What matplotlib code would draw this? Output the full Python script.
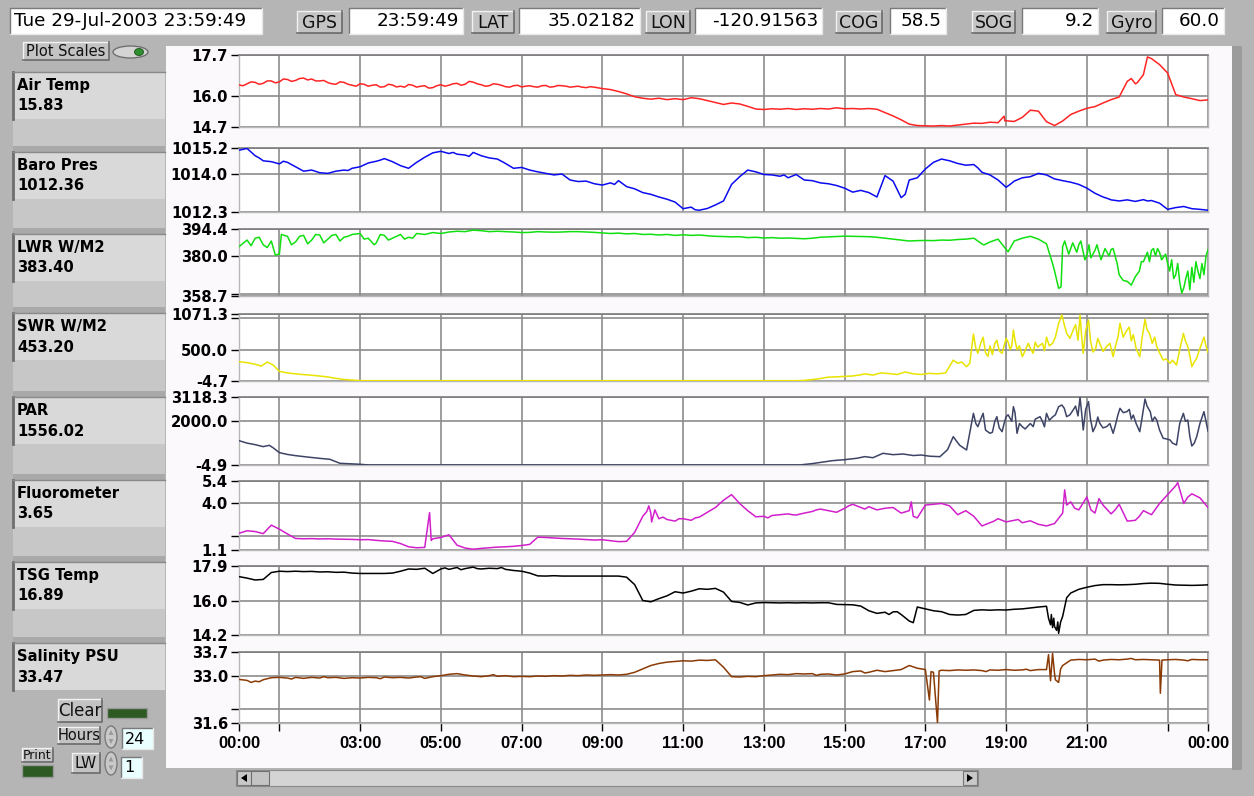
import numpy as np
import matplotlib
matplotlib.use("Agg")
import matplotlib.pyplot as plt
from matplotlib.patches import Rectangle, Ellipse, Polygon

# ---------------- data ----------------
hours_ticks = [0, 1, 3, 5, 7, 9, 11, 13, 15, 17, 19, 21, 23, 24]
hours_labels = ["00:00", "", "03:00", "05:00", "07:00", "09:00", "11:00", "13:00",
                "15:00", "17:00", "19:00", "21:00", "", "00:00"]

channel_names = ["Air Temp", "Baro Pres", "LWR W/M2", "SWR W/M2", "PAR",
                 "Fluorometer", "TSG Temp", "Salinity PSU"]
channel_values = ["15.83", "1012.36", "383.40", "453.20", "1556.02", "3.65", "16.89", "33.47"]

header_date = "Tue 29-Jul-2003 23:59:49"
header_buttons = ["GPS", "LAT", "LON", "COG", "SOG", "Gyro"]
header_values = ["23:59:49", "35.02182", "-120.91563", "58.5", "9.2", "60.0"]

air_temp = [16.45,16.50,16.56,16.52,16.62,16.58,16.68,16.64,16.74,16.70,
            16.62,16.55,16.48,16.56,16.44,16.50,16.40,16.46,16.38,16.45,
            16.40,16.47,16.36,16.42,16.34,16.46,16.44,16.52,16.48,16.57,
            16.46,16.42,16.48,16.38,16.42,16.37,16.42,16.36,16.43,16.38,
            16.42,16.36,16.40,16.34,16.36,16.30,16.26,16.18,16.08,15.96,
            15.90,15.86,15.90,15.84,15.88,15.84,15.92,15.88,15.80,15.72,
            15.64,15.70,15.66,15.56,15.45,15.43,15.46,15.44,15.47,15.43,
            15.46,15.44,15.47,15.45,15.50,15.46,15.47,15.45,15.47,15.44,
            15.30,15.16,15.00,14.82,14.76,14.75,14.74,14.76,14.74,14.78,
            14.82,14.86,14.85,14.90,14.88,14.96,14.93,15.10,15.40,15.36,
            14.92,14.76,14.95,15.22,15.36,15.48,15.55,15.70,15.84,15.95,
            16.60,16.50,16.88,17.55,17.30,16.95,16.05,15.95,15.88,15.80,
            15.83]
air_extra_t = [0.1, 0.3, 0.5, 0.7, 0.9, 1.1, 1.3, 1.5, 1.7, 1.9, 2.1, 2.3, 2.5, 2.7, 2.9,
               3.1, 3.3, 3.5, 3.7, 3.9, 4.1, 4.3, 4.5, 4.7, 4.9, 5.1, 5.3, 5.5, 5.7, 5.9,
               6.1, 6.3, 6.5, 6.7, 6.9, 7.1, 7.3, 7.5, 7.7, 7.9, 8.1, 8.3, 8.5, 8.7, 8.9,
               18.95, 18.97, 22.1, 22.25, 22.5]
air_extra_v = [16.42, 16.58, 16.48, 16.62, 16.54, 16.70, 16.60, 16.72, 16.66, 16.62,
               16.64, 16.50, 16.58, 16.48, 16.40, 16.48, 16.44, 16.36, 16.48, 16.37,
               16.36, 16.44, 16.40, 16.32, 16.42, 16.40, 16.50, 16.44, 16.60, 16.50,
               16.40, 16.50, 16.44, 16.36, 16.44, 16.40, 16.38, 16.42, 16.36, 16.43,
               16.40, 16.38, 16.36, 16.38, 16.33,
               15.15, 14.95, 16.72, 16.55, 17.62]

baro = [1015.10,1015.18,1014.85,1014.62,1014.58,1014.48,1014.55,1014.35,1014.15,1014.20,
        1014.08,1014.05,1014.15,1014.20,1014.28,1014.35,1014.52,1014.60,1014.72,1014.58,
        1014.40,1014.28,1014.55,1014.78,1014.98,1015.05,1014.95,1014.92,1014.88,1015.00,
        1014.85,1014.75,1014.70,1014.50,1014.28,1014.32,1014.20,1014.12,1014.05,1013.98,
        1014.02,1013.75,1013.68,1013.70,1013.58,1013.52,1013.62,1013.72,1013.45,1013.35,
        1013.18,1013.10,1012.98,1012.88,1012.75,1012.45,1012.52,1012.38,1012.46,1012.62,
        1012.80,1013.55,1013.90,1014.20,1014.12,1014.00,1013.98,1013.92,1013.85,1014.00,
        1013.75,1013.72,1013.62,1013.58,1013.50,1013.38,1013.20,1013.28,1013.18,1012.98,
        1013.95,1013.70,1012.95,1013.75,1013.85,1014.25,1014.55,1014.70,1014.62,1014.50,
        1014.42,1014.45,1014.10,1013.98,1013.75,1013.42,1013.70,1013.85,1013.90,1014.05,
        1013.98,1013.80,1013.72,1013.65,1013.55,1013.38,1013.15,1012.98,1012.85,1012.80,
        1012.85,1012.78,1012.86,1012.82,1012.70,1012.42,1012.50,1012.55,1012.45,1012.42,
        1012.38]
baro_extra_t = [0.5, 1.1, 2.7, 3.5, 5.3, 5.7, 9.3, 11.3, 13.5, 16.5, 18.3, 19.1, 21.5, 22.5]
baro_extra_v = [1014.75, 1014.60, 1014.18, 1014.65, 1015.00, 1014.82, 1013.55, 1012.40,
                1013.98, 1013.10, 1014.30, 1013.55, 1012.92, 1012.80]

lwr = [385.0,388.5,389.5,386.0,388.0,381.0,390.5,387.5,391.0,388.5,
       391.2,389.0,391.5,390.0,391.5,392.0,389.5,387.0,391.0,389.5,
       391.5,390.0,392.0,391.5,392.5,392.0,392.8,393.2,393.0,393.8,
       393.5,393.0,393.2,393.0,392.8,392.5,392.6,393.0,392.8,392.7,
       392.8,393.0,393.0,392.8,392.6,392.3,392.0,392.2,391.8,392.0,
       391.5,391.6,391.2,391.5,391.0,391.3,391.0,391.2,390.8,390.5,
       390.4,390.2,390.3,389.8,390.0,389.6,389.8,389.5,389.6,389.4,
       389.2,389.5,390.0,390.2,390.4,390.6,390.5,390.4,390.3,390.0,
       389.5,389.0,388.5,388.0,388.2,388.3,388.2,388.5,388.4,388.8,
       389.0,389.5,386.5,387.5,389.0,383.5,388.0,389.5,390.5,389.0,
       386.5,372.0,385.0,384.0,386.0,380.0,383.0,381.0,383.5,370.0,
       366.5,369.0,377.0,383.0,382.0,376.0,370.0,363.0,374.0,368.0,
       383.4]
lwr_extra_t = [0.3, 0.5, 0.7, 0.9, 1.05, 1.3, 1.5, 1.7, 1.9, 2.1, 2.3, 2.5, 2.7, 3.1, 3.35,
               3.5, 3.7, 4.1, 4.3, 18.45, 19.05, 20.15, 20.3, 20.36,
               20.45, 20.55, 20.65, 20.75, 20.85, 20.95, 21.05, 21.1, 21.25, 21.35, 21.45,
               21.55, 21.65, 21.75, 21.9, 22.1, 22.3, 22.35, 22.5, 22.55, 22.65, 22.7, 22.75,
               22.85, 22.95, 23.05, 23.1, 23.15, 23.25, 23.3, 23.35, 23.45, 23.5, 23.55,
               23.65, 23.7, 23.75, 23.85, 23.9, 23.95]
lwr_extra_v = [385.5, 390.0, 384.5, 380.5, 391.5, 386.0, 390.5, 386.5, 391.5, 387.0, 391.0,
               388.0, 390.5, 389.0, 386.0, 391.5, 388.5, 389.0, 389.5, 385.9, 382.3, 376.0,
               362.8, 363.5,
               388.0, 381.0, 387.0, 382.0, 388.0, 378.0, 386.0, 379.0, 386.0, 378.0, 384.0,
               380.0, 384.0, 376.0, 367.0, 364.5, 372.0, 377.0, 382.0, 377.0, 384.0, 380.0,
               384.0, 378.0, 381.0, 372.0, 378.0, 368.0, 376.0, 366.0, 360.3, 368.0, 372.0,
               362.0, 366.0, 377.0, 372.0, 376.0, 370.0, 380.0]

swr_t = [0, 0.2, 0.4, 0.55, 0.7, 0.85, 1.0, 1.2, 1.4, 1.6, 1.8, 2.0, 2.2, 2.4, 2.6, 2.8, 3.0,
         3.2, 13.6, 13.8, 14.0, 14.2, 14.4, 14.6, 14.8, 15.0, 15.2, 15.4, 15.5, 15.7, 15.9, 16.1,
         16.3, 16.5, 16.7, 16.9, 17.1, 17.3, 17.5, 17.69, 17.8, 17.9, 18.02, 18.1, 18.19, 18.3,
         18.43, 18.55, 18.77, 18.9, 19.0, 19.1, 19.18, 19.27, 19.4, 19.55, 19.67, 19.78, 20.0,
         20.15, 20.3, 20.38, 20.5, 20.66, 20.83, 20.91, 21.04, 21.15, 21.32, 21.49, 21.65,
         21.82, 21.99, 22.15, 22.31, 22.44, 22.55, 22.73, 22.89, 23.06, 23.22, 23.39, 23.5,
         23.6, 23.72, 23.9, 24.0]
swr_v = [305, 290, 265, 235, 300, 250, 150, 125, 110, 98, 88, 75, 60, 38, 20, 10, 2,
         0, 0, 0, 5, 18, 35, 58, 62, 70, 76, 95, 110, 90, 125, 115,
         100, 140, 110, 100, 118, 110, 125, 330, 280, 300, 225, 280, 750, 440,
         700, 390, 650, 440, 680, 500, 814, 500, 385, 600, 440, 540, 700,
         600, 920, 1055, 760, 814, 1055, 440, 975, 460, 600, 550, 385,
         920, 810, 740, 385, 985, 760, 550, 332, 280, 252, 760, 550,
         225, 360, 700, 453]
swr_extra_t = [18.25, 18.37, 18.49, 18.6, 18.66, 18.72, 18.83, 18.95, 19.05, 19.14, 19.22,
               19.33, 19.47, 19.6, 19.72, 19.9, 19.95, 20.07, 20.22, 20.44, 20.58, 20.72,
               20.78, 20.87, 20.97, 21.09, 21.22, 21.27, 21.4, 21.57, 21.71, 21.77, 21.9,
               22.05, 22.1, 22.22, 22.37, 22.49, 22.62, 22.68, 22.8, 22.96, 23.12, 23.3,
               23.44, 23.55, 23.66, 23.8, 23.95]
swr_extra_v = [520, 600, 450, 560, 420, 600, 480, 560, 620, 560, 650,
               560, 480, 520, 620, 600, 480, 560, 700, 900, 680, 900,
               650, 720, 800, 640, 520, 680, 470, 600, 560, 700, 700,
               860, 640, 520, 700, 820, 600, 700, 450, 350, 330, 500,
               640, 400, 300, 520, 560]

par_t = [0, 0.2, 0.4, 0.6, 0.75, 0.85, 1.0, 1.2, 1.4, 1.7, 2.0, 2.25, 2.5, 3.0, 3.2, 13.6,
         13.9, 14.2, 14.5, 14.7, 15.0, 15.3, 15.5, 15.7, 15.95, 16.2, 16.45, 16.7, 16.9, 17.1,
         17.36, 17.55, 17.69, 17.85, 18.02, 18.19, 18.3, 18.43, 18.6, 18.77, 18.9, 19.0, 19.18,
         19.27, 19.4, 19.67, 19.84, 20.0, 20.3, 20.38, 20.5, 20.66, 20.83, 20.91, 21.04, 21.15,
         21.32, 21.49, 21.65, 21.82, 21.99, 22.15, 22.31, 22.44, 22.57, 22.73, 22.89, 23.06,
         23.22, 23.39, 23.5, 23.6, 23.72, 23.9, 24.0]
par_v = [1113, 1000, 930, 838, 900, 780, 563, 480, 425, 360, 300, 257, 73, 28, -2, -2,
         0, 60, 140, 195, 240, 303, 380, 330, 532, 470, 500, 430, 454, 400,
         377, 700, 1296, 900, 684, 2368, 1756, 2368, 1450, 2215, 1526, 2215, 2674,
         1450, 1756, 1756, 2215, 2368, 2674, 2751, 2215, 2521, 3103, 1603, 2904, 1526,
         1909, 1756, 1450, 2598, 2444, 2291, 1526, 3026, 2444, 2062, 1220, 1144,
         914, 2368, 2062, 868, 1296, 2444, 1556]
par_extra_t = [18.25, 18.37, 18.49, 18.66, 18.72, 18.83, 18.95, 19.05, 19.14, 19.22, 19.33,
               19.47, 19.6, 19.72, 19.9, 19.95, 20.07, 20.15, 20.22, 20.44, 20.58, 20.72,
               20.78, 20.87, 20.97, 21.09, 21.22, 21.27, 21.4, 21.57, 21.71, 21.77, 21.9,
               22.05, 22.1, 22.22, 22.37, 22.49, 22.62, 22.68, 22.8, 22.96, 23.12, 23.3,
               23.44, 23.55, 23.66, 23.8, 23.95]
par_extra_v = [1900, 2100, 1600, 1500, 2000, 1700, 1900, 2300, 2000, 2400, 1900,
               1650, 1900, 2100, 2000, 1750, 2050, 2200, 2300, 2600, 2300, 2700,
               2250, 2400, 2550, 2100, 1800, 2200, 1700, 1900, 1850, 2300, 2400,
               2550, 2100, 1900, 2200, 2700, 2000, 2200, 1600, 1200, 1000, 1900,
               2000, 1300, 1000, 1900, 2000]

fluoro = [2.14,2.30,2.25,2.12,2.65,2.40,2.10,1.82,1.80,1.81,
          1.79,1.80,1.78,1.77,1.76,1.74,1.75,1.70,1.66,1.64,
          1.50,1.30,1.24,1.26,1.80,1.88,2.05,1.40,1.22,1.15,
          1.20,1.24,1.28,1.30,1.33,1.38,1.45,1.90,1.88,1.85,
          1.82,1.80,1.78,1.75,1.72,1.74,1.68,1.62,1.64,2.20,
          3.20,3.40,3.05,3.00,2.90,3.05,2.95,3.15,3.45,3.75,
          4.20,4.55,4.00,3.55,3.17,3.20,3.25,3.30,3.35,3.28,
          3.40,3.50,3.65,3.55,3.45,3.70,3.95,3.75,3.80,3.60,
          3.70,3.75,3.40,3.55,3.10,3.90,3.95,4.00,3.85,3.30,
          3.55,3.20,2.60,2.80,3.05,2.85,2.95,2.80,2.92,2.70,
          2.60,2.75,3.40,4.10,3.60,4.40,3.40,3.90,3.35,3.95,
          2.90,2.95,3.55,3.30,4.00,4.55,5.10,4.00,4.60,4.35,
          3.75]
fluoro_extra_t = [4.72, 4.76, 10.1, 10.15, 10.22, 10.3, 10.5, 10.9, 11.3, 13.1, 13.7, 14.3,
                  15.1, 15.5, 16.65, 16.7, 18.7, 19.3, 20.45, 20.5, 20.7, 21.1, 21.3, 21.7,
                  22.3, 23.25, 23.5]
fluoro_extra_v = [3.43, 1.70, 3.50, 3.85, 2.85, 3.60, 3.15, 3.05, 3.10, 3.10, 3.30, 3.60,
                  3.85, 3.65, 4.10, 3.20, 2.90, 3.00, 4.85, 3.90, 3.70, 3.60, 4.30, 3.60,
                  3.20, 5.30, 4.40]

tsg = [17.33,17.25,17.15,17.18,17.55,17.62,17.60,17.62,17.60,17.61,
       17.58,17.59,17.56,17.57,17.52,17.50,17.50,17.50,17.50,17.52,
       17.62,17.74,17.72,17.78,17.50,17.74,17.72,17.82,17.76,17.84,
       17.74,17.78,17.76,17.72,17.66,17.62,17.52,17.37,17.36,17.38,
       17.36,17.36,17.36,17.36,17.36,17.36,17.36,17.36,17.30,16.90,
       16.05,15.98,16.15,16.30,16.52,16.45,16.55,16.68,16.65,16.70,
       16.50,16.00,15.95,15.81,15.92,15.94,15.93,15.92,15.93,15.92,
       15.93,15.92,15.93,15.93,15.84,15.83,15.82,15.75,15.50,15.36,
       15.42,15.44,15.30,14.95,15.70,15.60,15.50,15.45,15.30,15.27,
       15.30,15.52,15.55,15.53,15.55,15.54,15.58,15.60,15.65,15.70,
       15.74,14.65,15.20,16.45,16.65,16.76,16.85,16.90,16.90,16.89,
       16.90,16.92,16.96,16.98,16.97,16.92,16.88,16.87,16.86,16.87,
       16.89]
tsg_extra_t = [5.1, 5.5, 5.9, 6.5, 16.1, 16.3, 16.7, 20.05, 20.1, 20.12, 20.15, 20.18,
               20.25, 20.28, 20.3, 20.35, 20.5]
tsg_extra_v = [17.80, 17.70, 17.76, 17.82, 15.30, 15.45, 14.86, 15.10, 14.75, 15.30, 14.60,
               15.10, 14.45, 14.90, 14.29, 14.90, 16.20]

salinity = [32.89,32.86,32.84,32.88,32.94,32.95,32.93,32.95,32.92,32.95,
            32.93,32.94,32.95,32.92,32.94,32.93,32.95,32.94,32.96,32.94,
            32.95,32.93,32.96,32.92,32.97,33.00,33.04,33.06,33.02,32.99,
            32.97,33.00,32.98,33.00,32.97,32.98,32.97,32.99,32.98,33.00,
            32.99,33.01,33.00,33.02,33.01,33.02,33.03,33.02,33.04,33.10,
            33.20,33.30,33.36,33.40,33.42,33.44,33.43,33.46,33.45,33.47,
            33.25,32.97,32.96,32.98,32.97,33.00,33.02,33.04,33.03,33.06,
            33.05,33.06,33.04,33.05,33.02,33.05,33.12,33.14,33.10,33.16,
            33.12,33.15,33.18,33.30,33.22,33.18,33.10,33.16,33.15,33.17,
            33.16,33.17,33.15,33.17,33.16,33.18,33.16,33.17,33.15,33.18,
            33.18,33.05,33.30,33.46,33.48,33.47,33.49,33.46,33.48,33.47,
            33.49,33.47,33.48,33.47,33.46,33.47,33.48,33.46,33.48,33.47,
            33.47]
sal_extra_t = [0.3, 0.5, 1.3, 2.1, 3.5, 4.5, 6.3, 14.3, 15.5, 17.1, 17.14, 17.3, 17.34,
               18.5, 19.5, 20.05, 20.1, 20.15, 20.22, 20.3, 20.35, 21.3, 22.1, 22.82, 22.86, 23.5]
sal_extra_v = [32.80, 32.82, 32.90, 32.97, 32.91, 32.97, 33.03, 33.01, 33.08, 32.28, 33.12,
               31.60, 33.14, 33.12, 33.19, 33.62, 32.85, 33.66, 32.88, 32.80, 33.20, 33.43,
               33.51, 32.48, 33.46, 33.44]

# axis ranges / ticks per channel
y_ranges = [(14.7, 17.7), (1012.3, 1015.2), (358.7, 394.4), (-4.7, 1071.3),
            (-4.9, 3118.3), (1.1, 5.4), (14.2, 17.9), (31.6, 33.7)]
y_mid_labels = [16.0, 1014.0, 380.0, 500.0, 2000.0, 4.0, 16.0, 33.0]
y_extra_grid = [[], [], [360.0], [1000.0], [], [2.0], [], [32.0]]
line_colors = ["#ff2424", "#0b0bf0", "#10e010", "#e8e400", "#3d4466",
               "#d21fcc", "#000000", "#8a3a05"]

# ---------------- layout (pixels) ----------------
W, H = 1254, 796
PX_L, PX_R = 239, 1208
tops = [55, 148, 229, 314, 397, 481, 566, 652]
bots = [127, 212, 296, 381, 465, 550, 635, 723]

fig = plt.figure(figsize=(W / 100, H / 100), dpi=100)
fig.patch.set_facecolor("#b5b5b5")
bg = fig.add_axes([0, 0, 1, 1])
bg.set_xlim(0, W)
bg.set_ylim(H, 0)
bg.axis("off")


def rect(x0, y0, x1, y1, fc, ec="none", lw=0.0, z=1):
    bg.add_patch(Rectangle((x0, y0), x1 - x0, y1 - y0, facecolor=fc,
                           edgecolor=ec, linewidth=lw, zorder=z))


def sunken(x0, y0, x1, y1, fc="white"):
    rect(x0, y0, x1, y1, fc, z=2)
    bg.plot([x0, x0, x1], [y1, y0, y0], color="#7a7a7a", lw=1.0, zorder=3)
    bg.plot([x0, x1, x1], [y1, y1, y0], color="#e8e8e8", lw=1.0, zorder=3)


def button(x0, y0, x1, y1, label, fs=12.5, fc="#c3c3c3"):
    rect(x0, y0, x1, y1, fc, z=2)
    bg.plot([x0, x0, x1], [y1, y0, y0], color="#f2f2f2", lw=1.0, zorder=3)
    bg.plot([x0, x1, x1], [y1, y1, y0], color="#6a6a6a", lw=1.2, zorder=3)
    bg.text((x0 + x1) / 2, (y0 + y1) / 2 + 0.5, label, ha="center", va="center",
            fontsize=fs, family="DejaVu Sans", color="#111111", zorder=4)


# ---- top header bar ----
sunken(10, 8, 262, 34)
bg.text(14, 21.5, header_date, ha="left", va="center", fontsize=13.2,
        family="DejaVu Sans", color="black", zorder=4)
btn_x = [(297, 342), (472, 514), (646, 690), (836, 882), (972, 1015), (1107, 1156)]
fld_x = [(349, 463), (519, 640), (695, 822), (890, 946), (1022, 1098), (1162, 1224)]
for (bx0, bx1), lab in zip(btn_x, header_buttons):
    button(bx0, 11, bx1, 33, lab, fs=12.5)
for (fx0, fx1), val in zip(fld_x, header_values):
    sunken(fx0, 8, fx1, 34)
    bg.text(fx1 - 4, 21.5, val, ha="right", va="center", fontsize=13.2,
            family="DejaVu Sans", color="black", zorder=4)

# ---- white plot container ----
rect(166, 46, 1232, 768, "#fbf9fb", z=1)
rect(1232, 46, 1242, 770, "#9c9c9c", z=1)

# ---- left panel ----
button(23, 42, 109, 60, "Plot Scales", fs=10.5)
bg.add_patch(Ellipse((130.5, 52), 35, 12, facecolor="#d4d4d4", edgecolor="#707070",
                     linewidth=1.0, zorder=3))
bg.add_patch(Ellipse((139, 52), 9, 7, facecolor="#2f8f2f", edgecolor="#1a4f1a",
                     linewidth=0.6, zorder=4))

box_tops = [72, 152, 234, 313, 397, 480, 562, 643]
for i, (nm, val) in enumerate(zip(channel_names, channel_values)):
    y0 = box_tops[i]
    y1 = y0 + 47
    if i < len(box_tops) - 1:
        rect(13, y1, 165, box_tops[i + 1] - 6, "#c7c7c7", z=1)
        rect(13, box_tops[i + 1] - 6, 165, box_tops[i + 1], "#a9a9a9", z=1)
    rect(13, y0, 165, y1, "#d9d9d9", z=2)
    bg.plot([13, 13], [y0, y1], color="#6e6e6e", lw=2.0, zorder=3)
    bg.plot([13, 165], [y0, y0], color="#8a8a8a", lw=1.0, zorder=3)
    bg.text(17, y0 + 13.5, nm, ha="left", va="center", fontsize=10.6,
            family="DejaVu Sans", weight="bold", color="black", zorder=4)
    bg.text(17, y0 + 34, val, ha="left", va="center", fontsize=10.6,
            family="DejaVu Sans", weight="bold", color="black", zorder=4)

# bottom-left controls
button(58, 699, 102, 722, "Clear", fs=12)
rect(107, 708, 147, 718, "#2c5a22", ec="#9a9a9a", lw=1.0, z=3)
button(58, 727, 100, 744, "Hours", fs=10.5)
button(22, 748, 53, 762, "Print", fs=9)
rect(22, 765, 53, 777, "#2c5a22", ec="#9a9a9a", lw=1.0, z=3)
button(72, 753, 100, 773, "LW", fs=11)
for sy0, sy1 in [(726, 748), (752, 775)]:
    bg.add_patch(Ellipse((111, (sy0 + sy1) / 2), 12, sy1 - sy0, facecolor="#c9c9c9",
                         edgecolor="#7a7a7a", linewidth=1.0, zorder=3))
    ym = (sy0 + sy1) / 2
    bg.add_patch(Polygon([[108.5, ym - 2], [113.5, ym - 2], [111, ym - 7]], closed=True,
                         facecolor="#9a9a9a", edgecolor="none", zorder=4))
    bg.add_patch(Polygon([[108.5, ym + 2], [113.5, ym + 2], [111, ym + 7]], closed=True,
                         facecolor="#9a9a9a", edgecolor="none", zorder=4))
sunken(122, 728, 153, 749, fc="#eaffff")
bg.text(125, 739, "24", ha="left", va="center", fontsize=11.5, family="DejaVu Sans", zorder=4)
sunken(121, 757, 142, 778, fc="#eaffff")
bg.text(124, 768, "1", ha="left", va="center", fontsize=11.5, family="DejaVu Sans", zorder=4)

# scrollbar
rect(236, 770, 978, 786, "#d4d4d4", ec="#8a8a8a", lw=0.8, z=2)
rect(237, 771, 251, 785, "#c8c8c8", ec="#777777", lw=0.8, z=3)
bg.add_patch(Polygon([[247, 774], [247, 782], [241, 778]], closed=True, facecolor="black", zorder=4))
rect(251, 771, 269, 785, "#c4c4c4", ec="#6f6f6f", lw=0.8, z=3)
rect(963, 771, 977, 785, "#c8c8c8", ec="#777777", lw=0.8, z=3)
bg.add_patch(Polygon([[967, 774], [967, 782], [973, 778]], closed=True, facecolor="black", zorder=4))

# ---------------- panels ----------------
t_grid = np.linspace(0, 24, 121)


def merged(base_t, base_v, ext_t, ext_v):
    tt = np.concatenate([np.asarray(base_t, float), np.asarray(ext_t, float)])
    vv = np.concatenate([np.asarray(base_v, float), np.asarray(ext_v, float)])
    order = np.argsort(tt, kind="stable")
    return tt[order], vv[order]


series = [
    merged(t_grid, air_temp, air_extra_t, air_extra_v),
    merged(t_grid, baro, baro_extra_t, baro_extra_v),
    merged(t_grid, lwr, lwr_extra_t, lwr_extra_v),
    merged(swr_t, swr_v, swr_extra_t, swr_extra_v),
    merged(par_t, par_v, par_extra_t, par_extra_v),
    merged(t_grid, fluoro, fluoro_extra_t, fluoro_extra_v),
    merged(t_grid, tsg, tsg_extra_t, tsg_extra_v),
    merged(t_grid, salinity, sal_extra_t, sal_extra_v),
]

for i in range(8):
    top, bot = tops[i], bots[i]
    ax = fig.add_axes([PX_L / W, 1 - bot / H, (PX_R - PX_L) / W, (bot - top) / H])
    ax.set_facecolor("white")
    lo, hi = y_ranges[i]
    ax.set_xlim(0, 24)
    ax.set_ylim(lo, hi)
    ticks = [lo, y_mid_labels[i], hi] + y_extra_grid[i]
    labels = ["%.1f" % lo, "%.1f" % y_mid_labels[i], "%.1f" % hi] + [""] * len(y_extra_grid[i])
    ax.set_yticks(ticks)
    ax.set_yticklabels(labels)
    for lab in ax.get_yticklabels():
        lab.set_fontweight("bold")
        lab.set_family("DejaVu Sans")
    ax.tick_params(axis="y", labelsize=10.6, length=6, width=1.0, pad=2, colors="black",
                   direction="out")
    ax.set_xticks(hours_ticks)
    if i == 7:
        ax.set_xticklabels(hours_labels)
        for lab in ax.get_xticklabels():
            lab.set_fontweight("bold")
            lab.set_family("Liberation Sans")
        ax.tick_params(axis="x", labelsize=12, length=6, width=1.0, pad=3, colors="black",
                       direction="out")
    else:
        ax.set_xticklabels([])
        ax.tick_params(axis="x", length=0)
    ax.grid(True, axis="both", color="#8c8c8c", linewidth=1.2)
    ax.set_axisbelow(True)
    for side in ["left", "right", "bottom"]:
        ax.spines[side].set_color("#b8b8b8")
        ax.spines[side].set_linewidth(1.0)
    ax.spines["top"].set_color("#7c7c7c")
    ax.spines["top"].set_linewidth(1.2)
    tt, vv = series[i]
    ax.plot(tt, vv, color=line_colors[i], linewidth=1.1, zorder=3, clip_on=True)

fig.savefig("out.png", dpi=100, facecolor=fig.get_facecolor())
